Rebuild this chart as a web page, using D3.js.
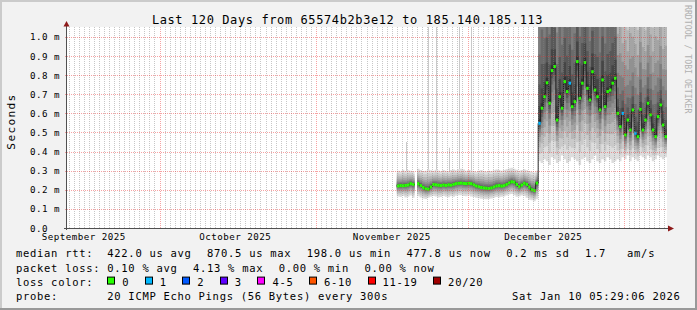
<!DOCTYPE html>
<meta charset="utf-8">
<title>Last 120 Days from 65574b2b3e12 to 185.140.185.113</title>
<script src="https://d3js.org/d3.v7.min.js"></script>
<style>
	body { margin: 0; background: #f2f2f2; }
	svg text { font-family: "DejaVu Sans Mono", monospace; white-space: pre; }
</style>
<svg id="chart" width="697" height="310"></svg>
<script>

var titleText = "Last 120 Days from 65574b2b3e12 to 185.140.185.113";
var unitLabel = "Seconds";
var watermark = "RRDTOOL / TOBI OETIKER";

var yTicks = [0, 0.1, 0.2, 0.3, 0.4, 0.5, 0.6, 0.7, 0.8, 0.9, 1.0];
var yTickLabels = ["0.0", "0.1 m", "0.2 m", "0.3 m", "0.4 m", "0.5 m", "0.6 m", "0.7 m", "0.8 m", "0.9 m", "1.0 m"];
var monthLabels = ["September 2025", "October 2025", "November 2025", "December 2025"];
var monthLabelDays = [Date.UTC(2025, 8, 16), Date.UTC(2025, 9, 16), Date.UTC(2025, 10, 16), Date.UTC(2025, 11, 16)];

// half-day samples from Nov 17 2025 00:00, values in ms
var dataStart = Date.UTC(2025, 10, 17);
var stepMs = 12 * 3600 * 1000;

var median = [
	0.220, 0.222, 0.221, 0.223, 0.225, 0.232, 0.228,
	null,
	0.232, 0.222, 0.212, 0.205, 0.203, 0.215, 0.228,
	0.226, 0.224, 0.222, 0.225, 0.223, 0.226, 0.224, 0.228, 0.232, 0.234,
	0.235, 0.233, 0.232, 0.234, 0.232, 0.226, 0.220, 0.216, 0.212, 0.210,
	0.208, 0.207, 0.210, 0.215, 0.220, 0.222, 0.219, 0.222, 0.228, 0.236,
	0.242, 0.240, 0.228, 0.216, 0.225, 0.234, 0.228, 0.214, 0.200, 0.196, 0.235,
	0.548, 0.627, 0.687, 0.760, 0.653, 0.824, 0.845, 0.565, 0.687, 0.627,
	0.766, 0.714, 0.758, 0.635, 0.661, 0.871, 0.679, 0.758, 0.866, 0.731,
	0.670, 0.818, 0.722, 0.687, 0.618, 0.775, 0.635, 0.714, 0.722, 0.758, 0.784,
	0.600, 0.530, 0.600, 0.487, 0.565, 0.513, 0.618, 0.496, 0.478, 0.621,
	0.513, 0.565, 0.653, 0.592, 0.513, 0.478, 0.583, 0.644, 0.539, 0.478
];

var smokeLo = [
	0.165, 0.162, 0.168, 0.160, 0.164, 0.170, 0.158,
	null,
	0.166, 0.160, 0.155, 0.152, 0.158, 0.163, 0.167,
	0.165, 0.160, 0.162, 0.168, 0.164, 0.161, 0.166, 0.163, 0.169, 0.171,
	0.172, 0.168, 0.166, 0.170, 0.165, 0.162, 0.158, 0.156, 0.153, 0.152,
	0.150, 0.152, 0.155, 0.158, 0.162, 0.160, 0.163, 0.165, 0.170, 0.175,
	0.178, 0.172, 0.163, 0.165, 0.170, 0.168, 0.158, 0.148, 0.145, 0.140, 0.150,
	0.35, 0.34, 0.36, 0.35, 0.33, 0.37, 0.36, 0.34, 0.35, 0.38,
	0.36, 0.34, 0.35, 0.37, 0.36, 0.35, 0.33, 0.36, 0.37, 0.35,
	0.34, 0.36, 0.38, 0.35, 0.34, 0.36, 0.35, 0.37, 0.36, 0.34, 0.35,
	0.36, 0.35, 0.37, 0.36, 0.38, 0.35, 0.37, 0.36, 0.35, 0.38,
	0.37, 0.36, 0.38, 0.37, 0.35, 0.36, 0.38, 0.37, 0.36, 0.37
];

var smokeHi = [
	0.300, 0.296, 0.305, 0.298, 0.302, 0.300, 0.296,
	null,
	0.310, 0.304, 0.298, 0.300, 0.306, 0.302, 0.299,
	0.305, 0.301, 0.297, 0.303, 0.300, 0.298, 0.304, 0.306, 0.302, 0.308,
	0.310, 0.306, 0.300, 0.304, 0.302, 0.298, 0.295, 0.300, 0.303, 0.298,
	0.296, 0.300, 0.298, 0.302, 0.306, 0.303, 0.300, 0.304, 0.308, 0.312,
	0.315, 0.310, 0.305, 0.300, 0.304, 0.308, 0.302, 0.298, 0.295, 0.290, 0.300,
	2.8, 3.2, 2.6, 3.4, 2.9, 3.6, 3.1, 2.4, 3.0, 2.7,
	3.3, 2.8, 3.0, 2.5, 2.9, 3.5, 2.7, 3.1, 3.4, 2.9,
	2.6, 3.2, 2.8, 3.0, 2.5, 3.3, 2.7, 2.9, 3.0, 3.1, 3.2,
	1.45, 1.60, 1.35, 1.50, 1.30, 1.55, 1.40, 1.45, 1.35, 1.60,
	1.40, 1.30, 1.50, 1.45, 1.35, 1.55, 1.40, 1.50, 1.35, 1.45
];

// samples with one lost ping out of 20
var lossOne = [56, 68, 89, 94];
// single very slow pings: [sample, max rtt ms]
var spikes = [[3, 0.45], [12, 5], [15, 5], [20, 0.42], [24, 5], [29, 5]];

var lossColors = [["0", "#26ff00"], ["1", "#00b8ff"], ["2", "#0059ff"], ["3", "#5e00ff"],
	["4-5", "#ff00ff"], ["6-10", "#ff5500"], ["11-19", "#ff0000"], ["20/20", "#a00000"]];

var rttStats = ["422.0 us avg", "870.5 us max", "198.0 us min", "477.8 us now", "0.2 ms sd", "1.7   am/s"];
var lossStats = ["0.10 % avg", "4.13 % max", "0.00 % min", "0.00 % now"];
var probeText = "20 ICMP Echo Pings (56 Bytes) every 300s";
var stampText = "Sat Jan 10 05:29:06 2026";

var W = 697, H = 310;
var plot = {left: 67, right: 667, top: 27, bottom: 228};

var svg = d3.select("#chart");

var x = d3.scaleUtc()
	.domain([new Date(Date.UTC(2025, 8, 12, 16, 19)), new Date(Date.UTC(2026, 0, 9, 12, 15))])
	.range([plot.left, plot.right]);
var y = d3.scaleLinear().domain([0, 1.052]).range([plot.bottom, plot.top]);

// frame
svg.append("rect").attr("width", W).attr("height", H).attr("fill", "#f2f2f2");
svg.append("rect").attr("x", 0).attr("y", 0).attr("width", W).attr("height", 2).attr("fill", "#cbcbcb");
svg.append("rect").attr("x", 0).attr("y", 0).attr("width", 2).attr("height", H).attr("fill", "#cbcbcb");
svg.append("rect").attr("x", 0).attr("y", H - 2).attr("width", W).attr("height", 2).attr("fill", "#999");
svg.append("rect").attr("x", W - 2).attr("y", 0).attr("width", 2).attr("height", H).attr("fill", "#999");

svg.append("rect")
	.attr("x", plot.left).attr("y", plot.top)
	.attr("width", plot.right - plot.left).attr("height", plot.bottom - plot.top)
	.attr("fill", "#fff");

svg.append("clipPath").attr("id", "clip")
	.append("rect")
	.attr("x", plot.left).attr("y", plot.top)
	.attr("width", plot.right - plot.left).attr("height", plot.bottom - plot.top);

var g = svg.append("g").attr("clip-path", "url(#clip)");

// points, with an extra end point for every run so the last step gets drawn
var pts = [];
median.forEach(function(v, i) {
	var t = dataStart + i * stepMs;
	pts.push({t: t, i: i, v: v});
	if (v != null && (i == median.length - 1 || median[i + 1] == null)) pts.push({t: t + stepMs, i: i, v: v});
});

function edge(i, k, side) {
	var m = median[i];
	var f = 1 - Math.pow(1 - (k - 1) / 10, 2);
	return side < 0 ? smokeLo[i] + (m - smokeLo[i]) * f : smokeHi[i] - (smokeHi[i] - m) * f;
}

// smoke, outer band light, inner band dark (20 pings -> 10 bands)
for (var k = 1; k <= 10; k++) {
	var c = Math.floor(190 / 10 * (10 - k)) + 50;
	var area = d3.area()
		.defined(function(d) { return d.v != null; })
		.curve(d3.curveStepAfter)
		.x(function(d) { return x(d.t); })
		.y0((function(k) { return function(d) { return y(edge(d.i, k, -1)); }; })(k))
		.y1((function(k) { return function(d) { return y(edge(d.i, k, 1)); }; })(k));
	g.append("path").attr("d", area(pts)).attr("fill", d3.rgb(c, c, c));
}

// slow single pings
g.selectAll(".spike")
	.data(spikes)
	.enter().append("rect")
	.attr("x", function(d) { return Math.round(x(dataStart + (d[0] + 0.5) * stepMs)); })
	.attr("width", 1)
	.attr("y", function(d) { return y(d[1]); })
	.attr("height", function(d) { return y(smokeHi[d[0]]) - y(d[1]); })
	.attr("fill", "#cacaca");

// median line
var line = d3.line()
	.defined(function(d) { return d.v != null; })
	.curve(d3.curveStepAfter)
	.x(function(d) { return x(d.t); })
	.y(function(d) { return y(d.v); });
g.append("path").attr("d", line(pts)).attr("fill", "none").attr("stroke", "#202020").attr("stroke-width", 1);

// median coloured by loss
g.selectAll(".med")
	.data(median.map(function(v, i) { return {v: v, i: i}; }).filter(function(d) { return d.v != null; }))
	.enter().append("rect")
	.attr("x", function(d) { return x(dataStart + d.i * stepMs); })
	.attr("width", function(d) { return x(dataStart + (d.i + 1) * stepMs) - x(dataStart + d.i * stepMs); })
	.attr("y", function(d) { return y(d.v) - 1.5; })
	.attr("height", 3)
	.attr("fill", function(d) { return lossOne.indexOf(d.i) >= 0 ? lossColors[1][1] : lossColors[0][1]; });

// grid on top
var grid = svg.append("g").attr("fill", "none").attr("stroke-width", 1).attr("stroke-dasharray", "1,1");
var months = d3.utcMonth.range(x.domain()[0], x.domain()[1]);
var days = d3.utcDay.range(x.domain()[0], x.domain()[1]).filter(function(d) { return d.getUTCDate() != 1; });

grid.selectAll(".minor")
	.data(days)
	.enter().append("line")
	.attr("x1", function(d) { return Math.round(x(d)) + 0.5; })
	.attr("x2", function(d) { return Math.round(x(d)) + 0.5; })
	.attr("y1", plot.top).attr("y2", plot.bottom)
	.attr("stroke", "rgba(130,130,130,0.45)");

grid.selectAll(".major")
	.data(months)
	.enter().append("line")
	.attr("x1", function(d) { return Math.round(x(d)) + 0.5; })
	.attr("x2", function(d) { return Math.round(x(d)) + 0.5; })
	.attr("y1", plot.top).attr("y2", plot.bottom)
	.attr("stroke", "rgba(235,50,50,0.45)");

grid.selectAll(".hgrid")
	.data(yTicks.slice(1))
	.enter().append("line")
	.attr("x1", plot.left - 2).attr("x2", plot.right)
	.attr("y1", function(d) { return Math.round(y(d)) + 0.5; })
	.attr("y2", function(d) { return Math.round(y(d)) + 0.5; })
	.attr("stroke", "rgba(235,50,50,0.45)");

// axes and arrows
var axisColor = "#505050", arrowColor = "#8e1a1a";
svg.append("line").attr("x1", plot.left - 0.5).attr("x2", plot.left - 0.5)
	.attr("y1", plot.bottom + 2).attr("y2", 25).attr("stroke", axisColor);
svg.append("line").attr("x1", plot.left - 3).attr("x2", 669)
	.attr("y1", plot.bottom + 0.5).attr("y2", plot.bottom + 0.5).attr("stroke", axisColor);
svg.append("path").attr("d", "M63.5,26.5L66.5,21L69.5,26.5Z").attr("fill", arrowColor);
svg.append("path").attr("d", "M668,225.5L674,228.5L668,231.5Z").attr("fill", arrowColor);

// texts
svg.append("text").attr("x", 347.5).attr("y", 23.5).attr("text-anchor", "middle")
	.style("font-size", "12px").style("letter-spacing", "0.6px").text(titleText);

svg.append("text")
	.attr("transform", "translate(15,121.5) rotate(-90)")
	.attr("text-anchor", "middle")
	.style("font-size", "11.2px").style("letter-spacing", "1.3px").text(unitLabel);

svg.append("text")
	.attr("transform", "translate(684.5,5) rotate(90)")
	.attr("fill", "#b0b0b0")
	.style("font-size", "8.2px").text(watermark);

svg.selectAll(".ylab")
	.data(yTicks)
	.enter().append("text")
	.attr("x", 30)
	.attr("y", function(d) { return y(d) + 3.5; })
	.style("font-size", "9.2px").style("letter-spacing", "0.46px")
	.text(function(d, i) { return yTickLabels[i]; });

svg.selectAll(".xlab")
	.data(monthLabelDays)
	.enter().append("text")
	.attr("x", function(d) { return x(d); })
	.attr("y", 240)
	.attr("text-anchor", "middle")
	.style("font-size", "9.2px").style("letter-spacing", "0.46px")
	.text(function(d, i) { return monthLabels[i]; });

// legend
var charW = 7.02, gap = 15.5, col2 = 107.3, lineY = [257.3, 271.6, 285.9, 300.2];
function legendText(xp, yp, s, anchor) {
	return svg.append("text").attr("x", xp).attr("y", yp).attr("text-anchor", anchor || "start")
		.style("font-size", "10.5px").style("letter-spacing", "0.7px").text(s);
}
function legendRow(yp, label, items) {
	legendText(16, yp, label);
	var xp = col2;
	items.forEach(function(s) {
		legendText(xp, yp, s);
		xp += s.length * charW + gap;
	});
}
legendRow(lineY[0], "median rtt:", rttStats);
legendRow(lineY[1], "packet loss:", lossStats);

legendText(16, lineY[2], "loss color:");
var bx = col2;
lossColors.forEach(function(lc) {
	svg.append("rect").attr("x", Math.round(bx) + 0.5).attr("y", lineY[2] - 8.8)
		.attr("width", 7).attr("height", 7)
		.attr("fill", lc[1]).attr("stroke", "#000");
	legendText(bx + 15, lineY[2], lc[0]);
	bx += 15 + lc[0].length * charW + gap;
});

legendRow(lineY[3], "probe:", [probeText]);
legendText(680.5, lineY[3], stampText, "end");

</script>
